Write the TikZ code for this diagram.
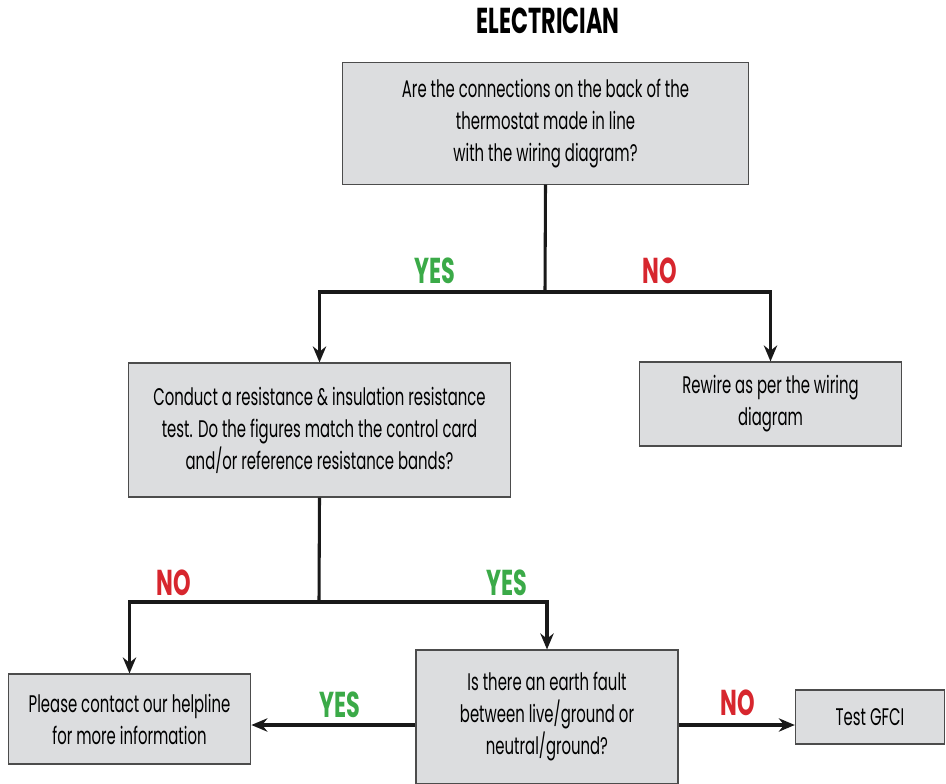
\documentclass[tikz,border=0pt]{standalone}
\usepackage{fontspec}
\setmainfont{Poppins}[FakeStretch=0.62]
\usepackage{xcolor}
\usepackage{tikz}
\usetikzlibrary{arrows.meta}

\definecolor{boxgray}{HTML}{DCDDDF}
\definecolor{yesgreen}{HTML}{3BAA48}
\definecolor{nored}{HTML}{D7262E}

\begin{document}
\begin{tikzpicture}[x=0.75pt, y=-0.75pt,
  box/.style={draw=black!70, line width=0.8pt, fill=boxgray, align=center,
    inner sep=0pt, font=\fontsize{18}{24}\selectfont},
  arr/.style={line width=2.3pt, black!90, -{Stealth[length=12pt, width=10pt]}},
  lbl/.style={font=\fontsize{27}{28}\selectfont\bfseries},
  yes/.style={lbl, text=yesgreen},
  no/.style={lbl, text=nored}]
\useasboundingbox (0,0) rectangle (946,784);
\node[font=\fontsize{27}{28}\selectfont\bfseries] (title) at (548,21) {ELECTRICIAN};
\node[box, minimum width=305pt, minimum height=91pt] (conn) at (545.5,123.5)
  {Are the connections on the back of the\\thermostat made in line\\with the wiring diagram?};
\node[box, minimum width=287pt, minimum height=100.5pt] (test) at (319.5,430)
  {Conduct a resistance \& insulation resistance\\test. Do the figures match the control card\\and/or reference resistance bands?};
\node[box, minimum width=196pt, minimum height=63pt] (rewire) at (770.5,404)
  {Rewire as per the wiring\\diagram};
\node[box, minimum width=182pt, minimum height=67.5pt] (help) at (129.5,719)
  {Please contact our helpline\\for more information};
\node[box, minimum width=196.5pt, minimum height=100.5pt] (earth) at (547,717)
  {Is there an earth fault\\between live/ground or\\neutral/ground?};
\node[box, minimum width=112pt, minimum height=40.5pt] (gfci) at (870,717)
  {Test GFCI};
% first split
\coordinate (s1) at (545,292);
\draw[line width=2.3pt, black!90] (conn.south) -- (s1);
\draw[arr] (s1) -| (test.north);
\draw[arr] (s1) -| (rewire.north);
\node[yes] at (435,271) {YES};
\node[no] at (660,271) {NO};
% second split
\coordinate (s2) at (319,602);
\draw[line width=2.3pt, black!90] (test.south) -- (s2);
\draw[arr] (s2) -| (help.north);
\draw[arr] (s2) -| (earth.north);
\node[no] at (174,583) {NO};
\node[yes] at (507,583) {YES};
% sideways
\draw[arr] ([yshift=-6pt]earth.west) -- ([yshift=-6pt]earth.west -| help.east);
\draw[arr] ([yshift=-6pt]earth.east) -- ([yshift=-6pt]earth.east -| gfci.west);
\node[yes] at (340,705) {YES};
\node[no] at (738,703) {NO};
\end{tikzpicture}
\end{document}
